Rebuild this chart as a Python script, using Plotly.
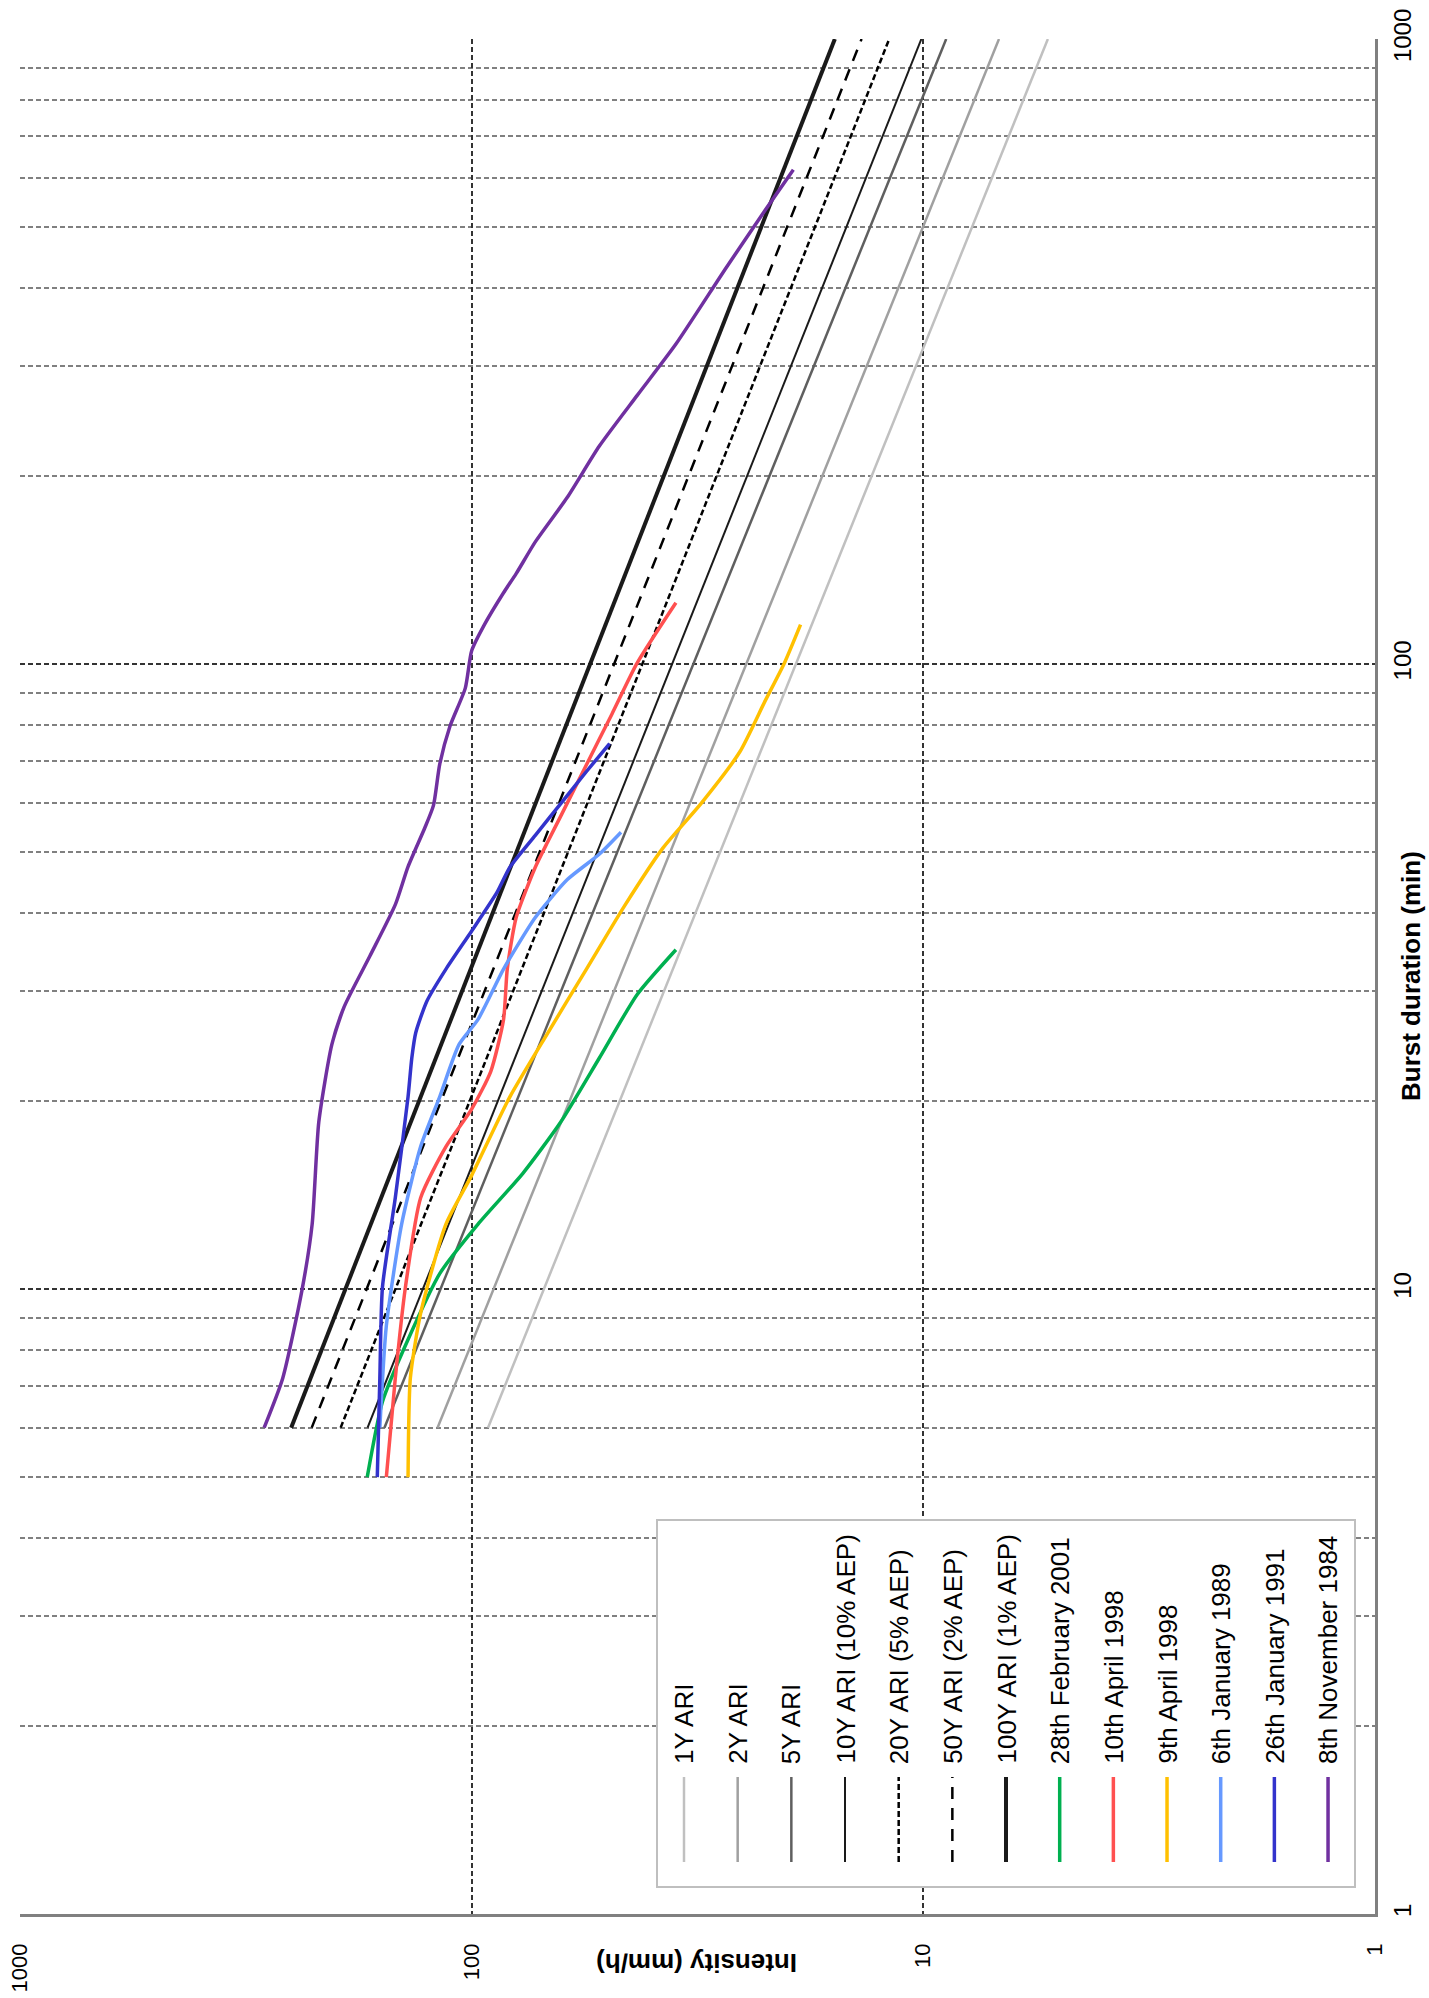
import plotly.graph_objects as go

# ---- IFD design curves (duration in min, intensity in mm/h) ----
ifd_durations = [6, 1000]
ifd_1y = [92, 5.3]
ifd_2y = [119, 6.8]
ifd_5y = [156, 8.9]
ifd_10y = [170, 10.1]
ifd_20y = [195, 11.9]
ifd_50y = [226, 13.7]
ifd_100y = [251, 15.7]

# ---- Observed storm bursts ----
feb2001_dur = [5, 6.6, 8.3, 10.6, 12.7, 15.3, 18.5, 23.4, 29.6, 34.9]
feb2001_int = [170.3, 157.6, 138.3, 117.5, 96.8, 77.1, 63.5, 52.2, 43.0, 35.3]

apr1998b_dur = [5, 7.2, 10.06, 14, 16.9, 19.4, 22.3, 27, 32.5, 39.3, 47.3, 52, 57.1, 69, 83.2, 100.4, 125.3]
apr1998b_int = [154.5, 147.6, 140.2, 129.7, 114, 100, 90.7, 85, 83.4, 79.7, 72.3, 67.8, 63.5, 55.7, 48.9, 43.0, 35.3]

apr1998a_dur = [5, 7.2, 9.15, 12.7, 15.2, 20.3, 25.7, 32.5, 41.1, 50.8, 59.9, 72.3, 87.3, 100.4, 115.6]
apr1998a_int = [138.3, 136.7, 129.7, 114, 100, 82.3, 67.8, 55.7, 45.8, 37.7, 31.0, 25.5, 22.4, 20.3, 18.7]

jan1989_dur = [6, 8.73, 12.7, 16.9, 20.3, 24.6, 27, 32.5, 39.3, 45.2, 49.6, 53.8]
jan1989_int = [159.7, 154.5, 142.9, 129.7, 117.7, 106.7, 96.8, 85, 72.3, 61.4, 52.2, 46.7]

jan1991_dur = [5, 7.2, 10.06, 14, 20.3, 23.4, 25.7, 28.9, 32.5, 37.4, 43.1, 47.3, 53.2, 59.8, 67.3, 74.6]
jan1991_int = [161.8, 159.7, 157.6, 147.6, 138.3, 135.7, 133, 125.6, 114, 100, 87.9, 82.3, 72.3, 63.5, 55.7, 49.5]

nov1984_dur = [6, 7.2, 9.96, 12.7, 18.5, 24.6, 28.3, 34.1, 41.2, 47.4, 54.6, 59.4, 69.1, 79.5, 91.5,
               105, 115.6, 130, 139.5, 156.8, 184.8, 223, 269, 325, 431, 532, 618]
nov1984_int = [288, 262, 237.5, 225.5, 218, 204, 191.5, 168, 147.6, 138.3, 127.1, 121.5, 117.7, 111.7, 103.3,
               100, 93.7, 85, 79.7, 72.3, 61.4, 52.2, 43.0, 35.3, 27.3, 22.4, 19.4]

series_names = ["1Y ARI", "2Y ARI", "5Y ARI", "10Y ARI (10% AEP)", "20Y ARI (5% AEP)",
                "50Y ARI (2% AEP)", "100Y ARI (1% AEP)", "28th February 2001", "10th April 1998",
                "9th April 1998", "6th January 1989", "26th January 1991", "8th November 1984"]

duration_ticks = [1, 10, 100, 1000]
intensity_ticks = [1, 10, 100, 1000]
duration_minor = [2, 3, 4, 5, 6, 7, 8, 9, 20, 30, 40, 50, 60, 70, 80, 90, 200, 300, 400, 500, 600, 700, 800, 900]

FONT = "Liberation Sans, Arial, sans-serif"
W, H = 1429, 1998
ML, MR, MT, MB = 20, 54, 39, 84
PW, PH = W - ML - MR, H - MT - MB


def px_x(px):
    return (px - ML) / PW


def px_y(py):
    return (H - MB - py) / PH


# (name, durations, intensities, colour, width, dash)
series = [
    (series_names[0], ifd_durations, ifd_1y, "#c0c0c0", 2.5, "solid"),
    (series_names[1], ifd_durations, ifd_2y, "#a0a0a0", 2.5, "solid"),
    (series_names[2], ifd_durations, ifd_5y, "#5f5f5f", 2.5, "solid"),
    (series_names[3], ifd_durations, ifd_10y, "#1a1a1a", 2, "solid"),
    (series_names[4], ifd_durations, ifd_20y, "#000000", 2.5, "6px,3px"),
    (series_names[5], ifd_durations, ifd_50y, "#000000", 2.5, "12px,9px"),
    (series_names[6], ifd_durations, ifd_100y, "#1a1a1a", 4, "solid"),
    (series_names[7], feb2001_dur, feb2001_int, "#00b050", 3.5, "solid"),
    (series_names[8], apr1998b_dur, apr1998b_int, "#ff5050", 3.5, "solid"),
    (series_names[9], apr1998a_dur, apr1998a_int, "#ffc000", 3.5, "solid"),
    (series_names[10], jan1989_dur, jan1989_int, "#6699ff", 3.5, "solid"),
    (series_names[11], jan1991_dur, jan1991_int, "#3333cc", 3.5, "solid"),
    (series_names[12], nov1984_dur, nov1984_int, "#7030a0", 3.5, "solid"),
]

fig = go.Figure()
for name, dur, inten, col, w, dash in series:
    fig.add_trace(go.Scatter(
        x=inten, y=dur, mode="lines", name=name,
        line=dict(color=col, width=w, dash=dash, shape="spline", smoothing=0.6),
        showlegend=False,
    ))

major_grid = dict(showgrid=True, gridcolor="#333333", gridwidth=2, griddash="5px,3px")

fig.update_xaxes(
    type="log", range=[3, 0], tickvals=intensity_ticks, ticktext=[str(v) for v in intensity_ticks],
    tickangle=-90, tickfont=dict(family=FONT, size=22, color="#000"), ticks="",
    ticklabelstandoff=18, showline=True, linecolor="#808080", linewidth=2.5,
    mirror=False, zeroline=False, automargin=False, **major_grid,
)
fig.update_yaxes(
    type="log", range=[0, 3], side="right", tickvals=duration_ticks, ticktext=[str(v) for v in duration_ticks],
    tickangle=-90, tickfont=dict(family=FONT, size=24, color="#000"), ticks="",
    ticklabelstandoff=4, showline=True, linecolor="#808080", linewidth=2.5,
    zeroline=False, automargin=False, **major_grid,
    minor=dict(tickvals=duration_minor, showgrid=True, gridcolor="#808080", gridwidth=1.5,
               griddash="5px,3px", ticks=""),
)

shapes = []
annotations = []

# legend frame
shapes.append(dict(type="rect", xref="paper", yref="paper",
                   x0=px_x(657), x1=px_x(1355), y0=px_y(1887), y1=px_y(1520),
                   line=dict(color="#bfbfbf", width=2), fillcolor="white", layer="above"))
for i, (name, dur, inten, col, w, dash) in enumerate(series):
    lx = 684 + 53.67 * i
    shapes.append(dict(type="line", xref="paper", yref="paper",
                       x0=px_x(lx), x1=px_x(lx), y0=px_y(1862), y1=px_y(1777),
                       line=dict(color=col, width=w, dash=dash), layer="above"))
    annotations.append(dict(xref="paper", yref="paper", x=px_x(lx), y=px_y(1766),
                            text=name, textangle=-90, showarrow=False,
                            xanchor="center", yanchor="bottom",
                            font=dict(family=FONT, size=26, color="#000")))

# axis titles
annotations.append(dict(xref="paper", yref="paper", x=px_x(1411), y=px_y(976),
                        text="<b>Burst duration (min)</b>", textangle=-90, showarrow=False,
                        xanchor="center", yanchor="middle",
                        font=dict(family=FONT, size=26, color="#000")))
annotations.append(dict(xref="paper", yref="paper", x=px_x(697), y=px_y(1963),
                        text="<b>Intensity (mm/h)</b>", textangle=180, showarrow=False,
                        xanchor="center", yanchor="middle",
                        font=dict(family=FONT, size=26, color="#000")))

fig.update_layout(
    width=W, height=H, margin=dict(l=ML, r=MR, t=MT, b=MB),
    paper_bgcolor="white", plot_bgcolor="white",
    shapes=shapes, annotations=annotations, showlegend=False,
)

fig.write_html("out.html")
